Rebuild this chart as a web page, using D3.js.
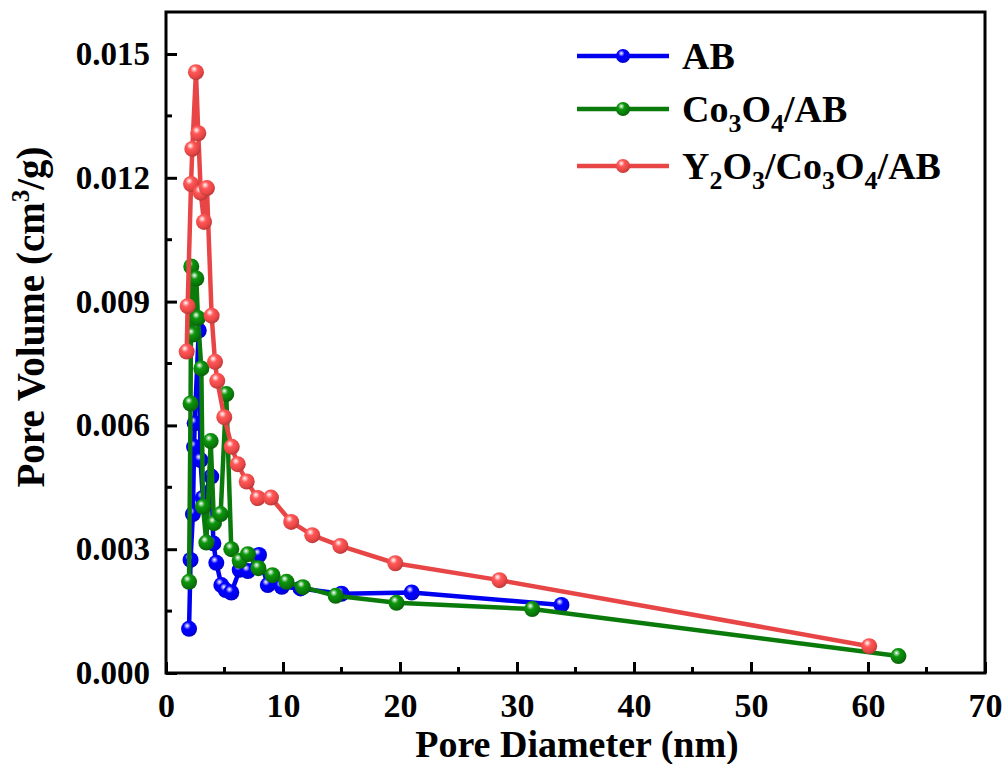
<!DOCTYPE html>
<html>
<head>
<meta charset="utf-8">
<script src="https://cdn.jsdelivr.net/npm/d3@7"></script>
<style>
body { margin: 0; background: #fff; }
text { font-family: "Liberation Serif", "Times New Roman", serif; font-weight: bold; fill: #000; }
</style>
</head>
<body>
<svg id="chart" width="1005" height="764"></svg>
<script>
// pore diameter (nm) and pore volume (cm3/g) per sample
var abX = [1.97, 2.1, 2.3, 2.4, 2.45, 2.8, 2.95, 3.15, 3.87, 4.05, 4.3, 4.73, 5.1, 5.58, 6.3, 7.0, 7.95, 8.7, 9.9, 11.5, 15.0, 21.0, 33.8];
var abY = [0.00107, 0.00274, 0.00385, 0.00548, 0.00605, 0.0083, 0.00516, 0.00424, 0.00476, 0.00314, 0.00267, 0.00213, 0.00201, 0.00195, 0.0025, 0.00247, 0.00286, 0.00213, 0.00209, 0.00205, 0.00192, 0.00195, 0.00165];

var coX = [1.97, 2.1, 2.16, 2.3, 2.59, 2.73, 3.02, 3.16, 3.45, 3.82, 4.1, 4.67, 5.15, 5.58, 6.3, 7.0, 7.9, 9.1, 10.3, 11.7, 14.5, 19.7, 31.3, 62.6];
var coY = [0.00221, 0.00653, 0.00985, 0.0082, 0.00956, 0.0086, 0.00738, 0.00403, 0.00316, 0.00562, 0.00363, 0.00385, 0.00676, 0.003, 0.00272, 0.00288, 0.00254, 0.00237, 0.00221, 0.00208, 0.00187, 0.0017, 0.00155, 0.00041];

var yoX = [1.77, 1.85, 2.14, 2.25, 2.56, 2.76, 2.97, 3.25, 3.5, 3.9, 4.19, 4.38, 4.98, 5.62, 6.13, 6.9, 7.84, 8.97, 10.7, 12.5, 14.9, 19.6, 28.5, 60.1];
var yoY = [0.00779, 0.00889, 0.01185, 0.0127, 0.01456, 0.01308, 0.01164, 0.01093, 0.01175, 0.00866, 0.00754, 0.00708, 0.0062, 0.00548, 0.00506, 0.00464, 0.00424, 0.00425, 0.00366, 0.00334, 0.00308, 0.00266, 0.00225, 0.00065];

var seriesNames = ["AB", "Co3O4/AB", "Y2O3/Co3O4/AB"];
var seriesColors = ["#0000f0", "#0a7a0a", "#e84646"];
var xTicks = [0, 10, 20, 30, 40, 50, 60, 70];
var yTicks = [0, 0.003, 0.006, 0.009, 0.012, 0.015];

var svg = d3.select("#chart");
var pLeft = 166, pRight = 985, pTop = 12, pBottom = 673;

var x = d3.scaleLinear().domain([0, 70]).range([pLeft, pRight]);
var y = d3.scaleLinear().domain([0, 0.015]).range([pBottom, 54]);

// shaded ball markers
var defs = svg.append("defs");
seriesColors.forEach(function (c, i) {
  var g = defs.append("radialGradient").attr("id", "ball" + i)
    .attr("cx", "40%").attr("cy", "35%").attr("r", "65%").attr("fx", "38%").attr("fy", "30%");
  g.append("stop").attr("offset", "0%").attr("stop-color", "#ffffff");
  g.append("stop").attr("offset", "35%").attr("stop-color", d3.color(c).brighter(0.6));
  g.append("stop").attr("offset", "75%").attr("stop-color", c);
  g.append("stop").attr("offset", "100%").attr("stop-color", d3.color(c).darker(0.6));
});

var allSeries = [
  abX.map(function (v, i) { return [v, abY[i]]; }),
  coX.map(function (v, i) { return [v, coY[i]]; }),
  yoX.map(function (v, i) { return [v, yoY[i]]; })
];

var line = d3.line().x(function (d) { return x(d[0]); }).y(function (d) { return y(d[1]); });

allSeries.forEach(function (pts, i) {
  svg.append("path").datum(pts)
    .attr("d", line)
    .attr("fill", "none")
    .attr("stroke", seriesColors[i])
    .attr("stroke-width", 4.5)
    .attr("stroke-linejoin", "round");
  svg.append("g").selectAll("circle").data(pts).enter().append("circle")
    .attr("cx", function (d) { return x(d[0]); })
    .attr("cy", function (d) { return y(d[1]); })
    .attr("r", 8)
    .attr("fill", "url(#ball" + i + ")");
});

// frame
svg.append("rect").attr("x", pLeft).attr("y", pTop)
  .attr("width", pRight - pLeft).attr("height", pBottom - pTop)
  .attr("fill", "none").attr("stroke", "#000").attr("stroke-width", 3);

// axes with inward ticks
var xAxis = d3.axisBottom(x).tickValues(xTicks).tickSize(-11).tickPadding(20).tickFormat(d3.format("d"));
var gx = svg.append("g").attr("transform", "translate(0," + pBottom + ")").call(xAxis);
gx.select(".domain").remove();
gx.selectAll(".tick line").attr("stroke", "#000").attr("stroke-width", 3);
gx.selectAll("text").attr("font-size", 34).attr("font-family", "Liberation Serif").attr("font-weight", "bold").attr("fill", "#000").attr("dy", "0.71em");

var xMinor = d3.range(5, 70, 10);
svg.append("g").selectAll("line").data(xMinor).enter().append("line")
  .attr("x1", function (d) { return x(d); }).attr("x2", function (d) { return x(d); })
  .attr("y1", pBottom).attr("y2", pBottom - 6)
  .attr("stroke", "#000").attr("stroke-width", 3);

var yAxis = d3.axisLeft(y).tickValues(yTicks).tickSize(-11).tickPadding(16).tickFormat(d3.format(".3f"));
var gy = svg.append("g").attr("transform", "translate(" + pLeft + ",0)").call(yAxis);
gy.select(".domain").remove();
gy.selectAll(".tick line").attr("stroke", "#000").attr("stroke-width", 3);
gy.selectAll("text").attr("font-size", 33).attr("font-family", "Liberation Serif").attr("font-weight", "bold").attr("fill", "#000");

var yMinor = [0.0015, 0.0045, 0.0075, 0.0105, 0.0135];
svg.append("g").selectAll("line").data(yMinor).enter().append("line")
  .attr("x1", pLeft).attr("x2", pLeft + 6)
  .attr("y1", function (d) { return y(d); }).attr("y2", function (d) { return y(d); })
  .attr("stroke", "#000").attr("stroke-width", 3);

// axis titles
svg.append("text").attr("x", 577).attr("y", 757)
  .attr("text-anchor", "middle").attr("font-size", 38)
  .text("Pore Diameter (nm)");

var yt = svg.append("text").attr("transform", "translate(44,317) rotate(-90)")
  .attr("text-anchor", "middle").attr("font-size", 39);
yt.append("tspan").text("Pore Volume (cm");
yt.append("tspan").attr("font-size", 25).attr("dy", -15).text("3");
yt.append("tspan").attr("dy", 15).text("/g)");

// legend
var legendRows = [
  [{t: "AB"}],
  [{t: "Co"}, {t: "3", s: 1}, {t: "O"}, {t: "4", s: 1}, {t: "/AB"}],
  [{t: "Y"}, {t: "2", s: 1}, {t: "O"}, {t: "3", s: 1}, {t: "/Co"}, {t: "3", s: 1}, {t: "O"}, {t: "4", s: 1}, {t: "/AB"}]
];
var legendY = [56, 109, 166];
legendRows.forEach(function (parts, i) {
  var ly = legendY[i];
  svg.append("line").attr("x1", 577).attr("x2", 669).attr("y1", ly).attr("y2", ly)
    .attr("stroke", seriesColors[i]).attr("stroke-width", 4.5);
  svg.append("circle").attr("cx", 623).attr("cy", ly).attr("r", 7)
    .attr("fill", "url(#ball" + i + ")");
  var t = svg.append("text").attr("x", 682).attr("y", ly + 13).attr("font-size", 38);
  var shifted = false;
  parts.forEach(function (p) {
    var ts = t.append("tspan").text(p.t);
    if (p.s) { ts.attr("font-size", 26).attr("dy", shifted ? 0 : 10); shifted = true; }
    else if (shifted) { ts.attr("dy", -10); shifted = false; }
  });
});
</script>
</body>
</html>
